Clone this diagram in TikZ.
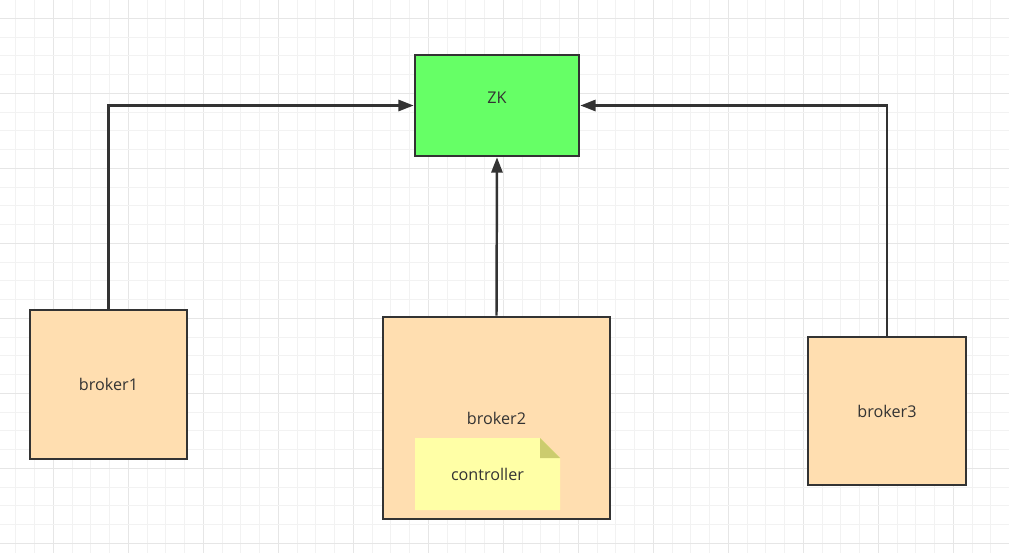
\documentclass[tikz,border=0pt]{standalone}
\usepackage{fontspec}
\setmainfont{Open Sans}
\usetikzlibrary{arrows.meta,positioning}
\definecolor{gridminor}{HTML}{F2F2F2}
\definecolor{gridmajor}{HTML}{E6E6E6}
\definecolor{zkgreen}{HTML}{66FF66}
\definecolor{brokerfill}{HTML}{FFDEB0}
\definecolor{notefill}{HTML}{FFFFA6}
\definecolor{notefold}{HTML}{CCCC6E}
\definecolor{edgegray}{HTML}{333333}

\tikzset{
  box/.style={draw=edgegray, line width=2.3pt, fill=brokerfill, inner sep=0pt,
    font=\fontsize{13.8}{16}\selectfont, text=edgegray},
  note/.style={inner sep=0pt, font=\fontsize{13.8}{16}\selectfont, text=edgegray,
    path picture={
      \fill[notefill] (path picture bounding box.south west)
        |- ([xshift=-0.6cm]path picture bounding box.north east)
        -- ([yshift=-0.6cm]path picture bounding box.north east)
        |- cycle;
      \fill[notefold] ([xshift=-0.6cm]path picture bounding box.north east)
        -- ([xshift=-0.6cm,yshift=-0.6cm]path picture bounding box.north east)
        -- ([yshift=-0.6cm]path picture bounding box.north east) -- cycle;
    }},
  link/.style={draw=edgegray, line width=2.1pt, -{Triangle[length=13pt,width=9.5pt]}},
}

\begin{document}
\begin{tikzpicture}[x=0.03cm, y=-0.03cm]
\useasboundingbox (0,0) rectangle (1009,553);
\fill[white] (0,0) rectangle (1009,553);

% grid
\foreach \i in {0,...,54} {
  \pgfmathtruncatemacro{\m}{mod(\i,4)}
  \ifnum\m=3 \def\gc{gridmajor}\else\def\gc{gridminor}\fi
  \draw[\gc, line width=0.85pt] (-2.95+18.75*\i,0) -- (-2.95+18.75*\i,553);
}
\foreach \j in {0,...,29} {
  \pgfmathtruncatemacro{\m}{mod(\j,4)}
  \ifnum\m=1 \def\gc{gridmajor}\else\def\gc{gridminor}\fi
  \draw[\gc, line width=0.85pt] (0,-0.45+18.75*\j) -- (1009,-0.45+18.75*\j);
}

% nodes
\node[box, fill=zkgreen, minimum width=4.92cm, minimum height=3.03cm] (zk) at (497,105.5) {\raisebox{13pt}{ZK}};
\node[box, minimum width=4.71cm, minimum height=4.47cm] (b1) at (108.5,384.5) {broker1};
\node[box, minimum width=6.81cm, minimum height=6.06cm] (b2) at (496.5,418) {broker2};
\node[box, minimum width=4.74cm, minimum height=4.44cm] (b3) at (887,411) {broker3};
\node[note, minimum width=4.35cm, minimum height=2.16cm] (ctl) at (487.5,474) {controller};

% links
\draw[link] (b1.north) |- (zk.west);
\draw[link] (b2.north) -- (zk.south);
\draw[link] (b3.north) |- (zk.east);
\end{tikzpicture}
\end{document}
